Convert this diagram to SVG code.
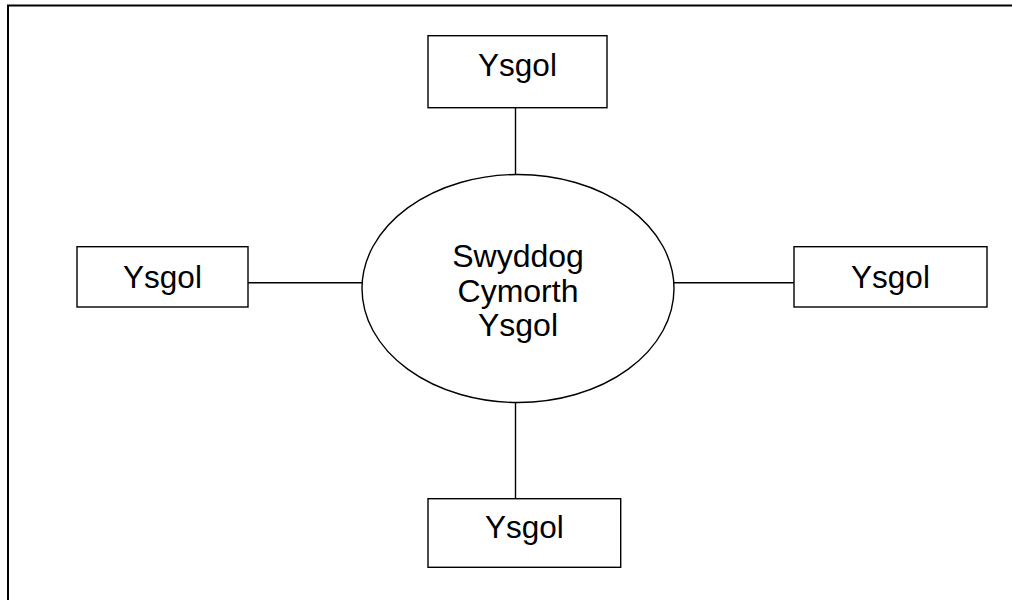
<svg xmlns="http://www.w3.org/2000/svg" width="1012" height="600" viewBox="0 0 1012 600">
<style>
.box{fill:#fff;stroke:#000;stroke-width:1.4}
.lbl{font-family:"Liberation Sans",Arial,sans-serif;font-size:31.5px;fill:#000;text-anchor:middle}
.big{font-size:32px}
.con{stroke:#000;stroke-width:1.4;fill:none}
.frame{stroke:#000;stroke-width:2;fill:none}
</style>
<rect width="1012" height="600" fill="#fff"/>
<g id="frame"><path class="frame" d="M8 600 V5.5 H1012"/></g>
<g id="connectors">
<line class="con" x1="515.5" y1="108" x2="515.5" y2="174.5"/>
<line class="con" x1="515.5" y1="402.5" x2="515.5" y2="499"/>
<line class="con" x1="248" y1="282.7" x2="368.5" y2="282.7"/>
<line class="con" x1="674" y1="282.7" x2="794" y2="282.7"/>
</g>
<g id="center">
<ellipse class="box" cx="518" cy="288.5" rx="156" ry="114"/>
<text class="lbl big" x="518" y="266.5">Swyddog</text>
<text class="lbl big" x="518" y="301.5">Cymorth</text>
<text class="lbl big" x="518" y="336">Ysgol</text>
</g>
<g id="top"><rect class="box" x="428" y="35.7" width="179" height="72"/><text class="lbl" x="517.5" y="76">Ysgol</text></g>
<g id="left"><rect class="box" x="77" y="246.7" width="171" height="60.3"/><text class="lbl" x="162.5" y="288">Ysgol</text></g>
<g id="right"><rect class="box" x="794" y="246.7" width="193" height="60.3"/><text class="lbl" x="890.5" y="288">Ysgol</text></g>
<g id="bottom"><rect class="box" x="428" y="498.7" width="192.7" height="68.6"/><text class="lbl" x="524.3" y="538">Ysgol</text></g>
</svg>
